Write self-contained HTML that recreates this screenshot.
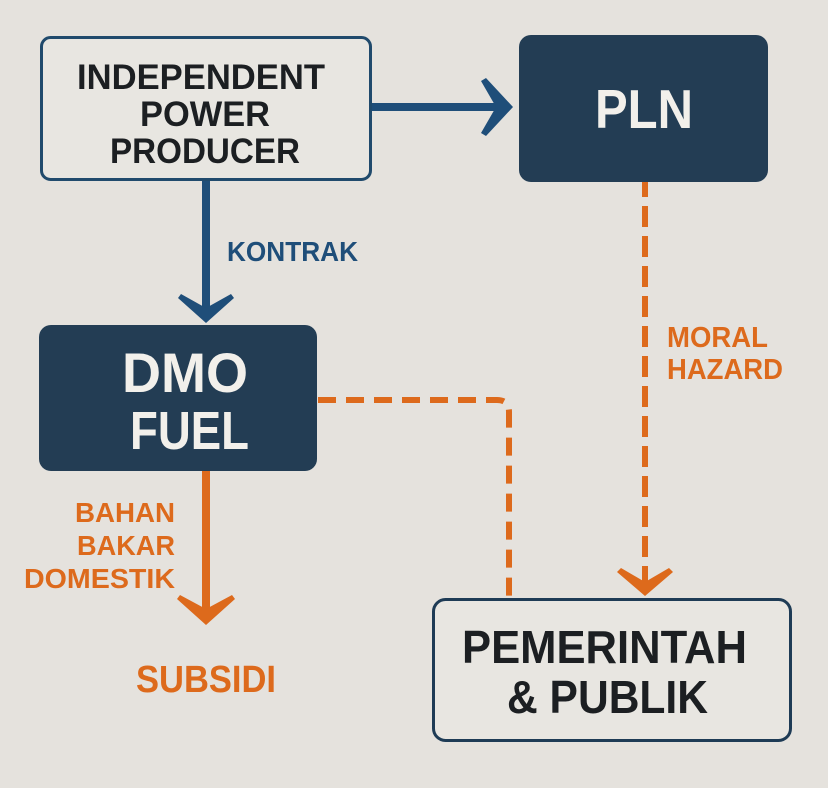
<!DOCTYPE html>
<html>
<head>
<meta charset="utf-8">
<style>
html,body{margin:0;padding:0;background:#e5e2dd;}
svg{display:block;}
text{font-family:"Liberation Sans",Arial,sans-serif;font-weight:bold;}
</style>
</head>
<body>
<svg width="828" height="788" viewBox="0 0 828 788" xmlns="http://www.w3.org/2000/svg">
  <rect x="0" y="0" width="828" height="788" fill="#e5e2dd"/>

  <!-- Connectors -->
  <!-- IPP -> PLN -->
  <line x1="372" y1="107" x2="500" y2="107" stroke="#1f4e79" stroke-width="8"/>
  <polygon points="513,107 486,78 481,81 496,107 481,133 486,136" fill="#1f4e79"/>

  <!-- IPP -> DMO -->
  <line x1="206" y1="181" x2="206" y2="310" stroke="#1f4e79" stroke-width="8"/>
  <polygon points="206,323 178,298 181,294 206,308 231,294 234,298" fill="#1f4e79"/>

  <!-- DMO -> Subsidi -->
  <line x1="206" y1="470" x2="206" y2="610" stroke="#dd6a1c" stroke-width="8"/>
  <polygon points="206,625 177,599 180,595 206,609 232,595 235,599" fill="#dd6a1c"/>

  <!-- PLN -> Pemerintah dashed -->
  <line x1="645" y1="182" x2="645" y2="582" stroke="#dd6a1c" stroke-width="6" stroke-dasharray="21 9" stroke-dashoffset="6"/>
  <polygon points="645,596 617,572 621,568 645,582 669,568 673,572" fill="#dd6a1c"/>

  <!-- DMO -> Pemerintah dashed -->
  <path d="M318,400 H497 Q509,400 509,412 V598" fill="none" stroke="#dd6a1c" stroke-width="6" stroke-dasharray="18 10"/>

  <!-- Boxes -->
  <rect x="41.5" y="37.5" width="329" height="142" rx="9" fill="#e8e6e1" stroke="#204a6c" stroke-width="3"/>
  <rect x="519" y="35" width="249" height="147" rx="12" fill="#233d54"/>
  <rect x="39" y="325" width="278" height="146" rx="12" fill="#233d54"/>
  <rect x="433.5" y="599.5" width="357" height="141" rx="12" fill="#e8e6e1" stroke="#1e3b55" stroke-width="3"/>

  <!-- IPP text -->
  <text x="77" y="89" font-size="35" fill="#1c1f22" textLength="248" lengthAdjust="spacingAndGlyphs">INDEPENDENT</text>
  <text x="140" y="126" font-size="35" fill="#1c1f22" textLength="130" lengthAdjust="spacingAndGlyphs">POWER</text>
  <text x="110" y="163" font-size="35" fill="#1c1f22" textLength="190" lengthAdjust="spacingAndGlyphs">PRODUCER</text>

  <!-- PLN -->
  <text x="595" y="128" font-size="55" fill="#f2f0eb" textLength="98" lengthAdjust="spacingAndGlyphs">PLN</text>

  <!-- KONTRAK -->
  <text x="227" y="261" font-size="28" fill="#1f4e79" textLength="131" lengthAdjust="spacingAndGlyphs">KONTRAK</text>

  <!-- DMO FUEL -->
  <text x="122" y="392" font-size="56" fill="#f2f0eb" textLength="126" lengthAdjust="spacingAndGlyphs">DMO</text>
  <text x="130" y="449" font-size="54" fill="#f2f0eb" textLength="119" lengthAdjust="spacingAndGlyphs">FUEL</text>

  <!-- Bahan bakar domestik -->
  <text x="75" y="522" font-size="28" fill="#dd6a1c" textLength="100" lengthAdjust="spacingAndGlyphs">BAHAN</text>
  <text x="77" y="555" font-size="28" fill="#dd6a1c" textLength="98" lengthAdjust="spacingAndGlyphs">BAKAR</text>
  <text x="24" y="588" font-size="28" fill="#dd6a1c" textLength="151" lengthAdjust="spacingAndGlyphs">DOMESTIK</text>

  <!-- SUBSIDI -->
  <text x="136" y="692" font-size="38" fill="#dd6a1c" textLength="140" lengthAdjust="spacingAndGlyphs">SUBSIDI</text>

  <!-- Moral hazard -->
  <text x="667" y="347" font-size="29" fill="#dd6a1c" textLength="101" lengthAdjust="spacingAndGlyphs">MORAL</text>
  <text x="667" y="379" font-size="29" fill="#dd6a1c" textLength="116" lengthAdjust="spacingAndGlyphs">HAZARD</text>

  <!-- Pemerintah -->
  <text x="462" y="663" font-size="46" fill="#1c1f22" textLength="285" lengthAdjust="spacingAndGlyphs">PEMERINTAH</text>
  <text x="507" y="713" font-size="46" fill="#1c1f22" textLength="201" lengthAdjust="spacingAndGlyphs">&amp; PUBLIK</text>
</svg>
</body>
</html>
